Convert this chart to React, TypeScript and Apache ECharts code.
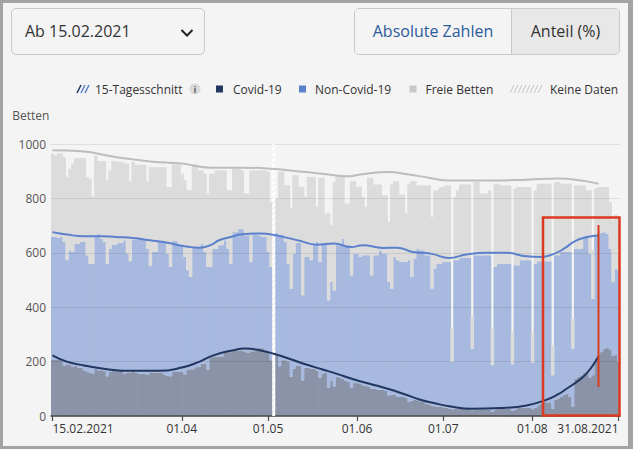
import React, { useEffect, useRef } from "react";
import * as echarts from "echarts";

const FONT = "'Open Sans', 'Noto Sans', sans-serif";

// ---- categories: one per day, 15.02.2021 .. 31.08.2021
const firstDay = { y: 2021, m: 2, d: 15 };
const dayCount = 198;
const pad = (n: number) => (n < 10 ? "0" + n : "" + n);
const categories: string[] = Array.from({ length: dayCount }, (_, i) => {
  const dt = new Date(firstDay.y, firstDay.m - 1, firstDay.d + i);
  return pad(dt.getDate()) + "." + pad(dt.getMonth() + 1) + "." + dt.getFullYear();
});

const tickLabels: { date: string; label: string }[] = [
  { date: "15.02.2021", label: "15.02.2021" },
  { date: "01.04.2021", label: "01.04" },
  { date: "01.05.2021", label: "01.05" },
  { date: "01.06.2021", label: "01.06" },
  { date: "01.07.2021", label: "01.07" },
  { date: "01.08.2021", label: "01.08" },
  { date: "31.08.2021", label: "31.08.2021" },
];
const noDataDates = ["03.05.2021"];

// ---- daily values (beds)
const covid: (number | null)[] = [
  208, 208, 207, 205, 186, 190, 190, 180, 186, 178,
  178, 168, 162, 160, 156, 174, 168, 168, 165, 146,
  162, 168, 168, 168, 166, 156, 160, 160, 166, 158,
  156, 156, 155, 152, 160, 160, 160, 160, 160, 152,
  148, 146, 162, 162, 162, 162, 153, 170, 172, 172,
  180, 180, 193, 193, 170, 215, 219, 219, 219, 219,
  235, 235, 235, 241, 241, 241, 241, 235, 232, 238,
  238, 245, 251, 251, 241, 232, 205, null, 223, 183,
  205, 205, 200, 144, 174, 186, 186, 131, 178, 178,
  174, 174, 168, 141, 155, 160, 104, 130, 109, 144,
  140, 137, 130, 125, 104, 121, 121, 118, 113, 110,
  108, 100, 100, 97, 97, 97, 92, 76, 78, 80,
  70, 70, 70, 68, 52, 56, 60, 58, 54, 52,
  45, 43, 38, 36, 34, 33, 32, 30, 27, 25,
  27, 27, 27, 27, 27, 26, 21, 24, 24, 24,
  25, 24, 24, 15, 22, 27, 27, 27, 27, 27,
  19, 24, 31, 31, 31, 31, 31, 25, 30, 39,
  45, 52, 50, 50, 27, 60, 65, 70, 78, 82,
  70, 35, 138, 145, 150, 158, 165, 142, 150, 210,
  225, 235, 248, 250, 245, 222, 225, 200,
];

// covid + non-covid (occupied beds)
const occupied: (number | null)[] = [
  658, 660, 655, 658, 640, 573, 609, 603, 634, 634,
  640, 640, 591, 560, 560, 658, 670, 652, 640, 560,
  615, 630, 630, 637, 637, 646, 597, 569, 649, 649,
  652, 652, 652, 615, 551, 603, 603, 640, 640, 640,
  597, 548, 643, 643, 628, 628, 585, 536, 511, 622,
  622, 622, 634, 603, 548, 548, 615, 615, 628, 628,
  646, 615, 560, 676, 676, 688, 687, 664, 664, 566,
  668, 668, 664, 658, 658, 603, 548, null, 674, 667,
  667, 640, 560, 468, 597, 637, 637, 444, 585, 585,
  573, 628, 640, 566, 634, 634, 425, 493, 462, 628,
  628, 652, 628, 628, 517, 597, 597, 585, 591, 591,
  591, 517, 591, 591, 609, 597, 597, 493, 468, 585,
  573, 566, 566, 566, 573, 511, 579, 615, 609, 609,
  591, 591, 468, 542, 560, 560, 566, 566, 566, 199,
  573, 573, 582, 582, 582, 582, 248, 591, 591, 591,
  591, 591, 591, 187, 548, 560, 560, 560, 560, 560,
  190, 554, 554, 573, 573, 573, 573, 195, 560, 569,
  569, 569, 569, 569, 150, 591, 591, 603, 603, 603,
  603, 248, 615, 615, 615, 658, 658, 597, 430, 664,
  674, 674, 676, 670, 615, 493, 540, 536,
];

// all reported beds (occupied + free)
const capacity: (number | null)[] = [
  965, 957, 965, 965, 952, 879, 909, 928, 948, 948,
  948, 948, 879, 873, 806, 957, 937, 937, 937, 867,
  903, 937, 937, 934, 934, 928, 928, 861, 934, 924,
  924, 924, 924, 861, 915, 915, 915, 915, 915, 915,
  842, 842, 924, 924, 924, 891, 867, 830, 830, 924,
  924, 903, 903, 891, 818, 891, 891, 903, 903, 903,
  903, 830, 830, 909, 909, 909, 903, 818, 818, 903,
  903, 903, 903, 903, 903, 897, 787, null, 800, 899,
  899, 848, 848, 763, 885, 885, 843, 843, 806, 879,
  879, 879, 769, 876, 876, 744, 747, 700, 860, 887,
  887, 887, 781, 781, 863, 863, 843, 843, 806, 769,
  876, 876, 851, 851, 851, 812, 812, 714, 851, 863,
  863, 814, 814, 744, 854, 863, 863, 848, 848, 848,
  848, 848, 732, 830, 830, 842, 842, 848, 848, 321,
  806, 830, 851, 851, 851, 851, 370, 860, 860, 818,
  818, 818, 830, 321, 854, 854, 848, 848, 848, 848,
  309, 836, 842, 842, 842, 842, 842, 309, 830, 854,
  854, 854, 854, 854, 260, 860, 860, 854, 854, 854,
  854, 358, 848, 848, 848, 848, 830, 830, 610, 836,
  842, 842, 842, 842, 787, 720, 740, 720,
];

// 15-day averages, [day index since 15.02.2021, beds]
const covidAvg: [number, number][] = [
  [0, 223], [5, 200], [11, 186], [19, 172], [28, 166], [37, 166], [45, 178],
  [51, 199], [56, 223], [63, 242], [67, 248], [72, 242], [77, 229], [84, 205],
  [88, 190], [94, 171], [99, 155], [105, 134], [111, 117], [117, 99], [122, 82],
  [128, 60], [133, 47], [138, 36], [146, 27], [156, 29], [165, 39], [172, 60],
  [176, 80], [179, 101], [182, 122], [185, 147], [187.5, 178], [190, 219],
];
const occupiedAvg: [number, number][] = [
  [0, 676], [5, 667], [11, 661], [17, 661], [22, 658], [28, 654], [34, 646],
  [40, 637], [44, 628], [48, 621], [51, 619], [55, 628], [58, 646], [62, 658],
  [66, 668], [72, 671], [78, 664], [86, 644], [92, 630], [98, 634], [104, 621],
  [108, 628], [115, 618], [120, 619], [125, 604], [132, 596], [138, 581],
  [144, 594], [151, 600], [158, 600], [165, 587], [170, 585], [174, 594],
  [178, 615], [182, 644], [186, 658], [190, 664],
];
const capacityAvg: [number, number][] = [
  [0, 977], [10, 973], [22, 952], [34, 936], [45, 928], [55, 913], [66, 913],
  [76, 909], [88, 897], [96, 888], [103, 881], [107, 888], [117, 897],
  [124, 888], [131, 876], [138, 866], [154, 866], [165, 869], [176, 873],
  [184, 866], [190, 854],
];

const C_COVID_BAR = "#8a93a7";
const C_NONCOVID_BAR = "#a7b9de";
const C_FREE_BAR = "#dcdcdc";
const C_COVID = "#21375f";
const C_NONCOVID = "#5b80cc";
const C_FREE = "#c8c8c8";
const C_RED = "#dc3a20";

function buildOption() {
  const tickMap: Record<string, string> = {};
  tickLabels.forEach((t) => (tickMap[t.date] = t.label));
  const tickIdx = new Set(tickLabels.map((t) => categories.indexOf(t.date)));
  const showTick = (i: number) => tickIdx.has(i);

  const covidPart = covid.map((v) => v);
  const nonCovidPart = occupied.map((v, i) => (v == null || covid[i] == null ? null : v - (covid[i] as number)));
  const freePart = capacity.map((v, i) => (v == null || occupied[i] == null ? null : v - (occupied[i] as number)));
  const noData = categories.map((c) => (noDataDates.includes(c) ? 1000 : null));

  // slightly wider than one day so that neighbouring bars overlap and leave no seams
  const BAR_W = 3.5;

  const legendY = 89;
  const txt = (x: number, text: string) => ({
    type: "text",
    x,
    y: legendY,
    style: { text, fill: "#333", font: `12px ${FONT}`, verticalAlign: "middle" },
  });
  const hatch: any[] = [];
  for (let k = 0; k < 8; k++) {
    hatch.push({
      type: "line",
      shape: { x1: 510 + k * 4, y1: legendY + 4, x2: 514 + k * 4, y2: legendY - 4 },
      style: { stroke: "#c4c4c4", lineWidth: 1 },
    });
  }

  return {
    animation: false,
    backgroundColor: "transparent",
    textStyle: { fontFamily: FONT },
    grid: { left: 51, right: 13, top: 144, bottom: 33, containLabel: false },
    xAxis: [
      {
        type: "category",
        data: categories,
        boundaryGap: true,
        z: 3,
        axisLine: { lineStyle: { color: "#4a4a4a", width: 1.5 } },
        axisTick: { show: true, interval: showTick, alignWithLabel: true, length: 5, lineStyle: { color: "#4a4a4a", width: 1.2 } },
        axisLabel: {
          interval: showTick,
          formatter: (v: string) => tickMap[v] || "",
          color: "#333",
          fontSize: 12,
          fontFamily: FONT,
          margin: 6,
          alignMinLabel: "left",
          alignMaxLabel: "right",
        },
        splitLine: { show: false },
      },
      { type: "value", min: -0.5, max: dayCount - 0.5, show: false },
    ],
    yAxis: {
      type: "value",
      min: 0,
      max: 1000,
      interval: 200,
      z: 3,
      name: "Betten",
      nameLocation: "end",
      nameGap: 29,
      nameTextStyle: { align: "right", verticalAlign: "middle", padding: [0, 3, 0, 0], color: "#555", fontSize: 12, fontFamily: FONT },
      axisLine: { show: false },
      axisTick: { show: false },
      axisLabel: { color: "#555", fontSize: 12, fontFamily: FONT, margin: 5, formatter: (v: number) => String(v) },
      splitLine: { lineStyle: { color: "rgba(0,0,0,0.09)", width: 1 } },
    },
    series: [
      { name: "Covid-19", type: "bar", stack: "beds", data: covidPart, itemStyle: { color: C_COVID_BAR }, barWidth: BAR_W, barGap: "-100%", z: 2 },
      { name: "Non-Covid-19", type: "bar", stack: "beds", data: nonCovidPart, itemStyle: { color: C_NONCOVID_BAR }, barWidth: BAR_W, barGap: "-100%", z: 2 },
      { name: "Freie Betten", type: "bar", stack: "beds", data: freePart, itemStyle: { color: C_FREE_BAR }, barWidth: BAR_W, barGap: "-100%", z: 2 },
      {
        name: "Keine Daten",
        type: "bar",
        stack: "nodata",
        data: noData,
        barWidth: 3,
        barGap: "-100%",
        z: 3,
        itemStyle: {
          color: "#ffffff",
          decal: { symbol: "rect", symbolSize: 1, dashArrayX: [1, 0], dashArrayY: [1, 3], rotation: -Math.PI / 4, color: "rgba(0,0,0,0.07)" },
        },
      },
      { name: "Betten gesamt (15-Tagesschnitt)", type: "line", xAxisIndex: 1, data: capacityAvg, smooth: 0.5, symbol: "none", lineStyle: { color: "#bdbdbd", width: 2 }, z: 5 },
      { name: "Belegt (15-Tagesschnitt)", type: "line", xAxisIndex: 1, data: occupiedAvg, smooth: 0.5, symbol: "none", lineStyle: { color: C_NONCOVID, width: 2 }, z: 5 },
      { name: "Covid-19 (15-Tagesschnitt)", type: "line", xAxisIndex: 1, data: covidAvg, smooth: 0.5, symbol: "none", lineStyle: { color: C_COVID, width: 2 }, z: 6 },
    ],
    graphic: [
      // legend
      { type: "line", shape: { x1: 77, y1: legendY + 4, x2: 81, y2: legendY - 4 }, style: { stroke: C_COVID, lineWidth: 1.6 } },
      { type: "line", shape: { x1: 81, y1: legendY + 4, x2: 85, y2: legendY - 4 }, style: { stroke: C_NONCOVID, lineWidth: 1.6 } },
      { type: "line", shape: { x1: 85, y1: legendY + 4, x2: 89, y2: legendY - 4 }, style: { stroke: C_NONCOVID, lineWidth: 1.6 } },
      txt(95, "15-Tagesschnitt"),
      { type: "circle", shape: { cx: 195, cy: legendY, r: 5.5 }, style: { fill: "#dadada" } },
      { type: "text", x: 195, y: legendY, style: { text: "i", fill: "#555", font: `bold 8px ${FONT}`, align: "center", verticalAlign: "middle" } },
      { type: "rect", shape: { x: 216, y: legendY - 3.5, width: 7, height: 7 }, style: { fill: C_COVID } },
      txt(233, "Covid-19"),
      { type: "rect", shape: { x: 299, y: legendY - 3.5, width: 7, height: 7 }, style: { fill: C_NONCOVID } },
      txt(315, "Non-Covid-19"),
      { type: "rect", shape: { x: 409.5, y: legendY - 3.5, width: 7, height: 7 }, style: { fill: C_FREE } },
      txt(425.5, "Freie Betten"),
      ...hatch,
      txt(550, "Keine Daten"),
      // annotation
      { type: "rect", z: 20, shape: { x: 543, y: 217.5, width: 76.5, height: 198 }, style: { fill: "rgba(0,0,0,0)", stroke: C_RED, lineWidth: 2.5 } },
      { type: "line", z: 20, shape: { x1: 598.5, y1: 225, x2: 598.5, y2: 387 }, style: { stroke: C_RED, lineWidth: 2 } },
    ],
  };
}

export default function App() {
  const ref = useRef<HTMLDivElement>(null);
  useEffect(() => {
    const chart = echarts.init(ref.current as HTMLDivElement, null, { renderer: "svg" });
    chart.setOption(buildOption() as any);
    return () => chart.dispose();
  }, []);

  return (
    <div style={{ position: "fixed", left: 0, top: 0, width: 633, height: 449, background: "#f4f4f4", fontFamily: FONT, overflow: "hidden" }}>
      <div ref={ref} style={{ position: "absolute", left: 0, top: 0, width: 633, height: 449 }} />
      <div style={{ position: "absolute", left: 11, top: 8, width: 194, height: 47, boxSizing: "border-box", border: "1px solid #c9c9c9", borderRadius: 5, background: "#f4f4f4" }}>
        <span style={{ position: "absolute", left: 13, top: 0, lineHeight: "45px", fontSize: 16, color: "#333" }}>Ab 15.02.2021</span>
        <svg style={{ position: "absolute", left: 168, top: 19 }} width="14" height="10">
          <polyline points="1.5,2 7,7.5 12.5,2" fill="none" stroke="#222" strokeWidth="2" />
        </svg>
      </div>
      <div style={{ position: "absolute", left: 354, top: 8, width: 266, height: 47, boxSizing: "border-box", border: "1px solid #c9c9c9", borderRadius: 5, overflow: "hidden", display: "flex" }}>
        <div style={{ width: 156, height: "100%", lineHeight: "45px", textAlign: "center", fontSize: 16, color: "#2c5b9c", background: "#f4f4f4" }}>Absolute Zahlen</div>
        <div style={{ flex: 1, height: "100%", lineHeight: "45px", textAlign: "center", fontSize: 16, color: "#333", background: "#e8e8e8", borderLeft: "1px solid #c9c9c9" }}>Anteil (%)</div>
      </div>
      <div style={{ position: "absolute", left: 0, top: 0, width: 633, height: 449, boxSizing: "border-box", borderStyle: "solid", borderColor: "#a3a3a3", borderWidth: "3px 5px 3px 3px", pointerEvents: "none" }} />
    </div>
  );
}
